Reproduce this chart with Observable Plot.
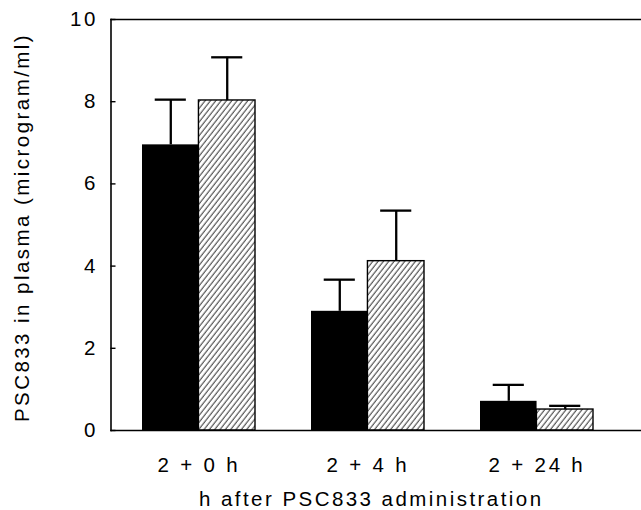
<!DOCTYPE html>
<html>
<head>
<meta charset="utf-8">
<script src="https://cdn.jsdelivr.net/npm/d3@7"></script>
<script src="https://cdn.jsdelivr.net/npm/@observablehq/plot@0.6"></script>
<style>
  html, body { margin: 0; padding: 0; background: #fff; }
  #chart svg text { letter-spacing: 2.8px; }
  #chart svg .ylab text, #chart svg .xlab text { letter-spacing: 2.45px; }
</style>
</head>
<body>
<div id="chart"></div>
<script>
// ---- data ----
const groups = ["2 + 0 h", "2 + 4 h", "2 + 24 h"];
const solidMean = [6.95, 2.9, 0.71];
const solidSD = [1.1, 0.77, 0.4];
const hatchedMean = [8.03, 4.12, 0.51];
const hatchedSD = [1.05, 1.23, 0.09];
const yTicks = [0, 2, 4, 6, 8, 10];
const xLabel = "h after PSC833 administration";
const yLabel = "PSC833 in plasma (microgram/ml)";

const solid = groups.map((g, i) => ({group: g, mean: solidMean[i], top: solidMean[i] + solidSD[i]}));
const hatched = groups.map((g, i) => ({group: g, mean: hatchedMean[i], top: hatchedMean[i] + hatchedSD[i]}));

// ---- layout ----
const W = 641, H = 510;
const mL = 110.5, mT = 19, mB = 80;
const xOpts = {type: "band", domain: groups, range: [mL, 625], paddingInner: 1/3, paddingOuter: 0.186, align: 0.5};
const bw = Plot.scale({x: xOpts}).bandwidth;
const half = bw / 2, q = bw / 4, capW = 31;

const chart = Plot.plot({
  width: W, height: H,
  marginLeft: mL, marginRight: 0, marginTop: mT, marginBottom: mB,
  style: {fontFamily: "'Liberation Sans', Arial, sans-serif", fontSize: "20.5px", color: "#000", background: "#fff"},
  x: {...xOpts, label: null},
  y: {domain: [0, 10], label: null},
  marks: [
    Plot.barY(solid, {x: "group", y: "mean", fill: "#000", insetRight: half}),
    Plot.barY(hatched, {x: "group", y: "mean", fill: "url(#hatch)", stroke: "#000", strokeWidth: 1.4, insetLeft: half}),
    Plot.ruleX(solid, {x: "group", y1: "mean", y2: "top", dx: -q, stroke: "#000", strokeWidth: 2.3}),
    Plot.ruleX(hatched, {x: "group", y1: "mean", y2: "top", dx: q, stroke: "#000", strokeWidth: 2.3}),
    Plot.tickY(solid, {x: "group", y: "top", stroke: "#000", strokeWidth: 2.3, insetLeft: q - capW / 2, insetRight: 3 * q - capW / 2}),
    Plot.tickY(hatched, {x: "group", y: "top", stroke: "#000", strokeWidth: 2.3, insetLeft: 3 * q - capW / 2, insetRight: q - capW / 2}),
    Plot.ruleY([0, 10], {stroke: "#000", strokeWidth: 1.6}),
    Plot.frame({anchor: "left", stroke: "#000", strokeWidth: 1.6}),
    Plot.axisY({ticks: yTicks, tickSize: -5, tickPadding: 17.7, strokeWidth: 1.4, label: null}),
    Plot.axisX({tickSize: 0, tickPadding: 27, label: null}),
    Plot.text([xLabel], {text: d => d, frameAnchor: "bottom", textAnchor: "middle", lineAnchor: "middle", dx: -5, dy: 69, fill: "#000", className: "xlab"}),
    Plot.text([yLabel], {text: d => d, frameAnchor: "left", textAnchor: "middle", lineAnchor: "middle", rotate: -90, dx: -88.5, dy: 2.5, fill: "#000", className: "ylab"})
  ]
});

// hatch pattern definition
const ns = "http://www.w3.org/2000/svg";
const defs = document.createElementNS(ns, "defs");
const pat = document.createElementNS(ns, "pattern");
pat.setAttribute("id", "hatch");
pat.setAttribute("patternUnits", "userSpaceOnUse");
pat.setAttribute("width", "4.2");
pat.setAttribute("height", "10");
pat.setAttribute("patternTransform", "rotate(38)");
const bg = document.createElementNS(ns, "rect");
bg.setAttribute("width", "4.2"); bg.setAttribute("height", "10"); bg.setAttribute("fill", "#fff");
const ln = document.createElementNS(ns, "line");
ln.setAttribute("x1", "1"); ln.setAttribute("y1", "0"); ln.setAttribute("x2", "1"); ln.setAttribute("y2", "10");
ln.setAttribute("stroke", "#111"); ln.setAttribute("stroke-width", "0.85");
pat.appendChild(bg); pat.appendChild(ln); defs.appendChild(pat);
chart.insertBefore(defs, chart.firstChild);

document.getElementById("chart").appendChild(chart);
</script>
</body>
</html>
